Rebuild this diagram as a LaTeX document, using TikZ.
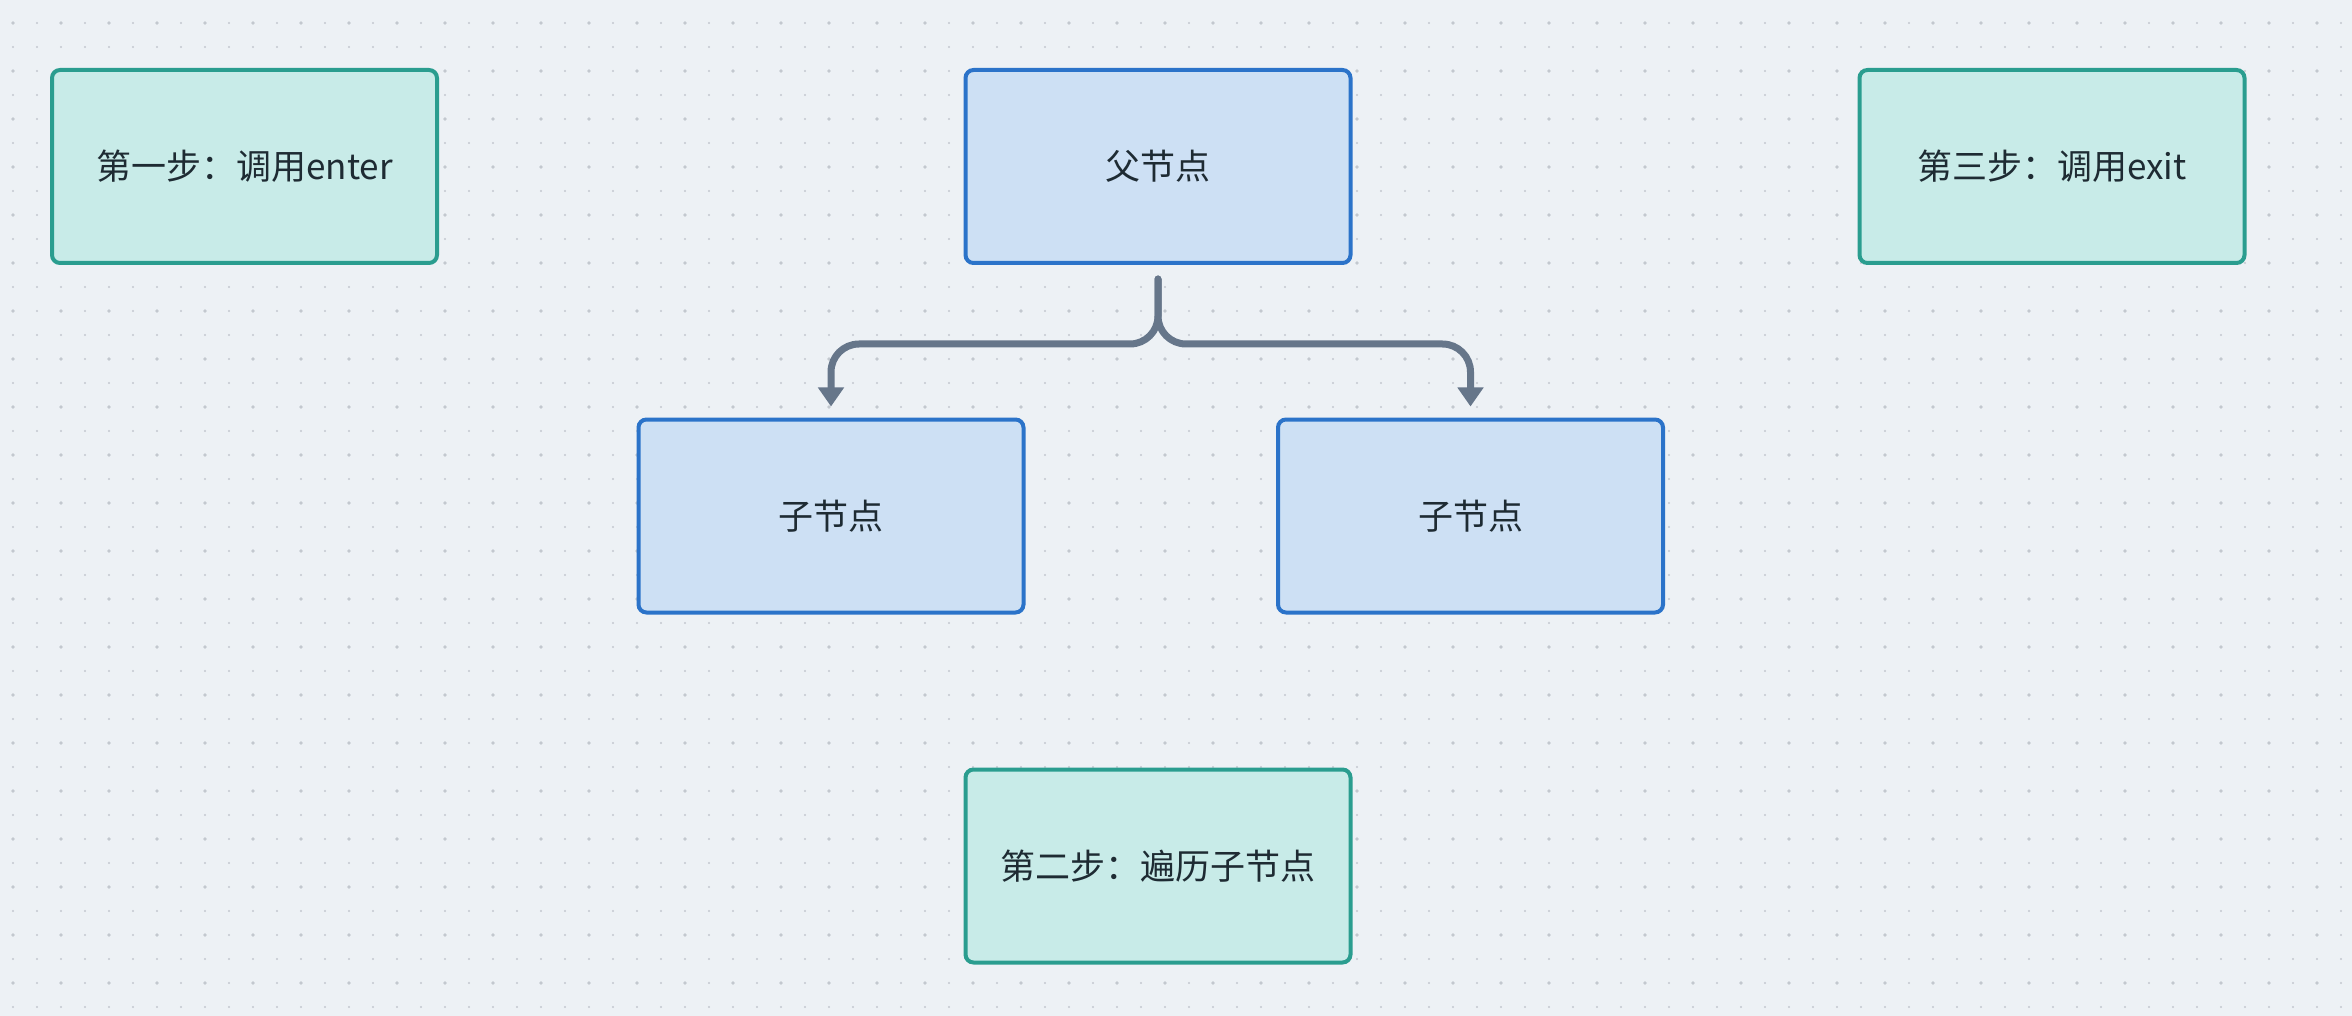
\documentclass[tikz,border=0pt]{standalone}
\usepackage{fontspec}
\setmainfont{Noto Sans CJK SC}
\usetikzlibrary{arrows.meta}
\definecolor{bgc}{HTML}{EDF1F5}
\definecolor{dotc}{HTML}{C3C8CF}
\definecolor{gfill}{HTML}{C8EBE8}
\definecolor{gline}{HTML}{2A9D8F}
\definecolor{bfill}{HTML}{CDE0F4}
\definecolor{bline}{HTML}{2B73C9}
\definecolor{txt}{HTML}{1E2B33}
\definecolor{connc}{HTML}{66768A}
\tikzset{
  box/.style={rectangle, rounded corners=4pt, line width=2pt,
    minimum width=192.5pt, minimum height=96.5pt, inner sep=0pt,
    text=txt, font=\fontsize{17.5pt}{20pt}\selectfont},
  stepbox/.style={box, draw=gline, fill=gfill},
  treebox/.style={box, draw=bline, fill=bfill},
  conn/.style={draw=connc, line width=3.5pt, rounded corners=14pt,
    line cap=round, line join=round, -{Triangle[width=12.5pt,length=9.5pt]}},
}
\begin{document}
\begin{tikzpicture}[x=0.5pt,y=-0.5pt]
\fill[bgc] (0,0) rectangle (2352,1016);
\useasboundingbox (0,0) rectangle (2352,1016);
\foreach \j in {0,...,41} {
  \fill[dotc] \foreach \i in {0,...,97} {(13+24*\i,23+24*\j) circle (1.1)};
}
\foreach \j in {0,...,20} {
  \fill[dotc] \foreach \i in {0,...,48} {(13+48*\i,23+48*\j) circle (1.8)};
}
\node[stepbox] (s1) at (244.5,166.5) {第一步：调用enter};
\node[treebox] (p) at (1158,166.5) {父节点};
\node[stepbox] (s3) at (2052,166.5) {第三步：调用exit};
\node[treebox] (lc) at (831,516) {子节点};
\node[treebox] (rc) at (1470.5,516) {子节点};
\node[stepbox] (s2) at (1158,866) {第二步：遍历子节点};
\coordinate (fork) at ([yshift=-7pt]p.south);
\draw[conn] (fork) -- ++(0,65) -| ([yshift=5.5pt]lc.north);
\draw[conn] (fork) -- ++(0,65) -| ([yshift=5.5pt]rc.north);
\end{tikzpicture}
\end{document}
